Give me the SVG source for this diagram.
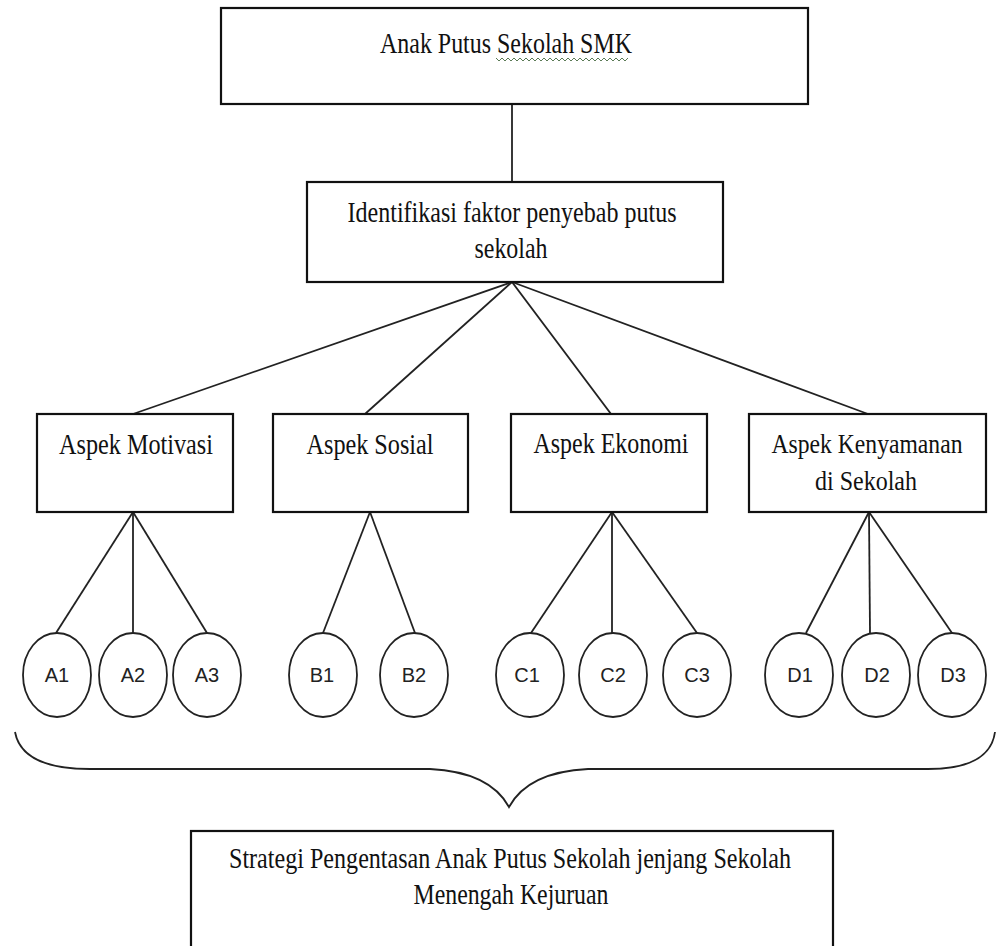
<svg xmlns="http://www.w3.org/2000/svg" width="997" height="946" viewBox="0 0 997 946">
  <style>
    .box { fill: #ffffff; stroke: #111111; stroke-width: 2.2; }
    .circ { fill: #ffffff; stroke: #222222; stroke-width: 1.8; }
    .conn { stroke: #222222; stroke-width: 1.8; fill: none; }
    .t { font-family: "Liberation Serif", "Times New Roman", serif; font-size: 30px; fill: #111111; text-anchor: middle; }
    .s { font-size: 27px; }
    .c { font-family: "Liberation Sans", "Open Sans", Arial, sans-serif; font-size: 20px; fill: #222222; text-anchor: middle; }
  </style>
  <rect width="997" height="946" fill="#ffffff"/>

  <g id="connectors">
    <line class="conn" x1="512" y1="104" x2="512" y2="182"/>
    <line class="conn" x1="512" y1="282" x2="133" y2="414"/>
    <line class="conn" x1="512" y1="282" x2="365" y2="414"/>
    <line class="conn" x1="512" y1="282" x2="611" y2="414"/>
    <line class="conn" x1="512" y1="282" x2="868" y2="414"/>
    <line class="conn" x1="133" y1="512" x2="56" y2="633"/>
    <line class="conn" x1="133" y1="512" x2="133" y2="633"/>
    <line class="conn" x1="133" y1="512" x2="207" y2="633"/>
    <line class="conn" x1="370" y1="512" x2="323" y2="633"/>
    <line class="conn" x1="370" y1="512" x2="415" y2="633"/>
    <line class="conn" x1="612" y1="512" x2="531" y2="633"/>
    <line class="conn" x1="612" y1="512" x2="612" y2="633"/>
    <line class="conn" x1="612" y1="512" x2="697" y2="633"/>
    <line class="conn" x1="869" y1="512" x2="806" y2="633"/>
    <line class="conn" x1="869" y1="512" x2="870" y2="633"/>
    <line class="conn" x1="869" y1="512" x2="952" y2="633"/>
    <path class="conn" stroke-width="2.2" d="M15,732 Q22,769 90,769 L430,769 Q490,772 509,807 Q528,772 588,769 L928,769 Q990,769 995,732"/>
  </g>

  <g id="root">
    <rect class="box" x="221" y="8" width="587" height="96"/>
    <text class="t" x="506" y="53" textLength="252" lengthAdjust="spacingAndGlyphs">Anak Putus Sekolah  SMK</text>
    <path d="M496,58 l3,3 l3,-3 l3,3 l3,-3 l3,3 l3,-3 l3,3 l3,-3 l3,3 l3,-3 l3,3 l3,-3 l3,3 l3,-3 l3,3 l3,-3 l3,3 l3,-3 l3,3 l3,-3 l3,3 l3,-3 l3,3 l3,-3 l3,3 l3,-3 l3,3 l3,-3 l3,3 l3,-3 l3,3 l3,-3 l3,3 l3,-3 l3,3 l3,-3 l3,3 l3,-3 l3,3 l3,-3 l3,3 l3,-3 l3,3 l3,-3" fill="none" stroke="#5a7a55" stroke-width="1"/>
  </g>

  <g id="identifikasi">
    <rect class="box" x="307" y="182" width="416" height="100"/>
    <text class="t" x="512" y="222" textLength="329" lengthAdjust="spacingAndGlyphs">Identifikasi faktor penyebab putus</text>
    <text class="t" x="511" y="258" textLength="73" lengthAdjust="spacingAndGlyphs">sekolah</text>
  </g>

  <g id="aspek-motivasi">
    <rect class="box" x="37" y="414" width="196" height="98"/>
    <text class="t" x="136" y="454" textLength="154" lengthAdjust="spacingAndGlyphs">Aspek Motivasi</text>
  </g>
  <g id="aspek-sosial">
    <rect class="box" x="273" y="414" width="195" height="98"/>
    <text class="t" x="370" y="454" textLength="127" lengthAdjust="spacingAndGlyphs">Aspek Sosial</text>
  </g>
  <g id="aspek-ekonomi">
    <rect class="box" x="511" y="414" width="196" height="98"/>
    <text class="t" x="611" y="453" textLength="155" lengthAdjust="spacingAndGlyphs">Aspek Ekonomi</text>
  </g>
  <g id="aspek-kenyamanan">
    <rect class="box" x="749" y="414" width="237" height="98"/>
    <text class="t s" x="867" y="453" textLength="191" lengthAdjust="spacingAndGlyphs">Aspek Kenyamanan</text>
    <text class="t s" x="866" y="490" textLength="102" lengthAdjust="spacingAndGlyphs">di Sekolah</text>
  </g>

  <g id="A1"><ellipse class="circ" cx="57" cy="675" rx="34" ry="42"/><text class="c" x="57" y="682">A1</text></g>
  <g id="A2"><ellipse class="circ" cx="133" cy="675" rx="34" ry="42"/><text class="c" x="133" y="682">A2</text></g>
  <g id="A3"><ellipse class="circ" cx="207" cy="675" rx="34" ry="42"/><text class="c" x="207" y="682">A3</text></g>
  <g id="B1"><ellipse class="circ" cx="323" cy="675" rx="34" ry="42"/><text class="c" x="322" y="682">B1</text></g>
  <g id="B2"><ellipse class="circ" cx="414" cy="675" rx="34" ry="42"/><text class="c" x="414" y="682">B2</text></g>
  <g id="C1"><ellipse class="circ" cx="530" cy="675" rx="34" ry="42"/><text class="c" x="527" y="682">C1</text></g>
  <g id="C2"><ellipse class="circ" cx="613" cy="675" rx="34" ry="42"/><text class="c" x="613" y="682">C2</text></g>
  <g id="C3"><ellipse class="circ" cx="697" cy="675" rx="34" ry="42"/><text class="c" x="697" y="682">C3</text></g>
  <g id="D1"><ellipse class="circ" cx="799" cy="675" rx="34" ry="42"/><text class="c" x="800" y="682">D1</text></g>
  <g id="D2"><ellipse class="circ" cx="876" cy="675" rx="34" ry="42"/><text class="c" x="877" y="682">D2</text></g>
  <g id="D3"><ellipse class="circ" cx="952" cy="675" rx="34" ry="42"/><text class="c" x="953" y="682">D3</text></g>

  <g id="strategi">
    <rect class="box" x="191" y="831" width="642" height="140"/>
    <text class="t" x="510" y="868" textLength="562" lengthAdjust="spacingAndGlyphs">Strategi Pengentasan Anak Putus Sekolah jenjang Sekolah</text>
    <text class="t" x="511" y="904" textLength="195" lengthAdjust="spacingAndGlyphs">Menengah Kejuruan</text>
  </g>
</svg>
